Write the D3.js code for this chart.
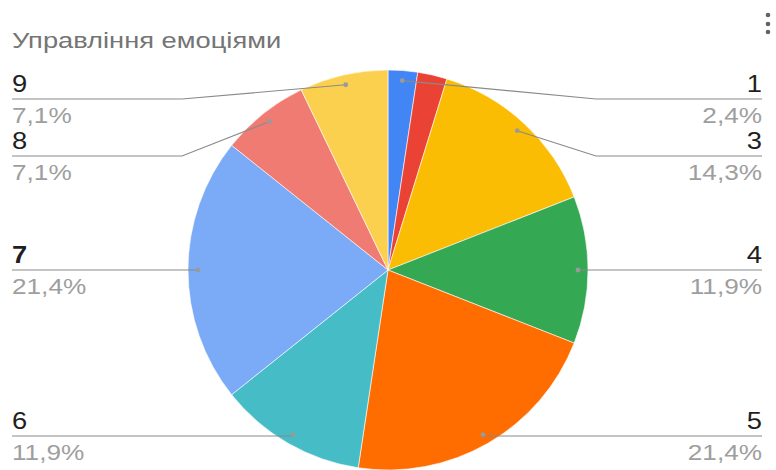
<!DOCTYPE html>
<html>
<head>
<meta charset="utf-8">
<script src="https://cdn.jsdelivr.net/npm/d3@7"></script>
<style>
  html, body { margin: 0; padding: 0; background: #fff; }
  svg { display: block; font-family: "Liberation Sans", Arial, Helvetica, sans-serif; }
</style>
</head>
<body>
<svg id="chart" width="776" height="470"></svg>
<script>
// Response counts per answer option (42 responses in total)
const categories = ["1", "2", "3", "4", "5", "6", "7", "8", "9"];
const counts = [1, 1, 6, 5, 9, 5, 9, 3, 3];
const percentLabels = ["2,4%", "2,4%", "14,3%", "11,9%", "21,4%", "11,9%", "21,4%", "7,1%", "7,1%"];
const colors = ["#4285F4", "#EA4335", "#FBBC04", "#34A853", "#FF6D01", "#46BDC6", "#7BAAF7", "#F07B72", "#FCD04F"];
// Which slices get an outside label, and the row each label sits on
const labelled = ["1", "3", "4", "5", "6", "7", "8", "9"];
const labelRows = { "1": 99, "3": 156, "4": 270, "5": 436, "6": 436, "7": 270, "8": 156, "9": 99 };
const title = "Управління емоціями";

const W = 776, H = 470;
const cx = 388, cy = 270, R = 200;
const stretch = 1.19; // horizontal widening of all text
const svg = d3.select("#chart");

// Text anchored at (x, y) and widened horizontally around its anchor
function addText(parent, x, y, str, opts) {
  return parent.append("text")
    .attr("transform", `translate(${x},${y}) scale(${opts.stretch || stretch},1)`)
    .attr("text-anchor", opts.anchor || "start")
    .attr("font-size", opts.size)
    .attr("font-weight", opts.weight || 400)
    .attr("fill", opts.fill)
    .text(str);
}

addText(svg, 12, 48, title, { size: 21.5, fill: "#757575", stretch: 1.27 });

// Menu glyph in the top-right corner
svg.append("g").selectAll("circle")
  .data([15, 24, 32]).join("circle")
  .attr("cx", 768).attr("cy", d => d)
  .attr("r", 2.3).attr("fill", "#5f6368");

const data = categories.map((c, i) => ({ cat: c, value: counts[i], pct: percentLabels[i], color: colors[i] }));
const pie = d3.pie().value(d => d.value).sort(null);
const arcs = pie(data);
const arc = d3.arc().innerRadius(0).outerRadius(R);
const dotArc = d3.arc().innerRadius(R * 0.95).outerRadius(R * 0.95);

const g = svg.append("g").attr("transform", `translate(${cx},${cy})`);
g.selectAll("path").data(arcs).join("path")
  .attr("d", arc)
  .attr("fill", d => d.data.color)
  .attr("stroke", "#ffffff")
  .attr("stroke-width", 0.6);

const leftX = 12, rightX = 762;
const elbowLeft = 182, elbowRight = 596;
const lab = svg.append("g");

arcs.filter(a => labelled.includes(a.data.cat)).forEach(a => {
  const [dx, dy] = dotArc.centroid(a);
  const px = cx + dx, py = cy + dy;
  const right = px > cx;
  const rowY = labelRows[a.data.cat];
  const endX = right ? rightX : leftX;
  let elbowX = right ? elbowRight : elbowLeft;
  // Straight leader when the dot already sits on its row
  if (Math.abs(py - rowY) < 4) elbowX = px;
  const pts = [[px, py], [elbowX, rowY], [endX, rowY]];
  lab.append("path")
    .attr("d", d3.line()(pts))
    .attr("fill", "none")
    .attr("stroke", "#8a8a8a")
    .attr("stroke-width", 1.2);
  lab.append("circle")
    .attr("cx", px).attr("cy", py).attr("r", 2.4)
    .attr("fill", "#9a9a9a");
  const anchor = right ? "end" : "start";
  addText(lab, endX, rowY - 7, a.data.cat,
    { size: 23, anchor, fill: "#1f1f1f", weight: a.data.cat === "7" ? 700 : 400 });
  addText(lab, endX, rowY + 24, a.data.pct,
    { size: 22, anchor, fill: "#9e9e9e" });
});
</script>
</body>
</html>
